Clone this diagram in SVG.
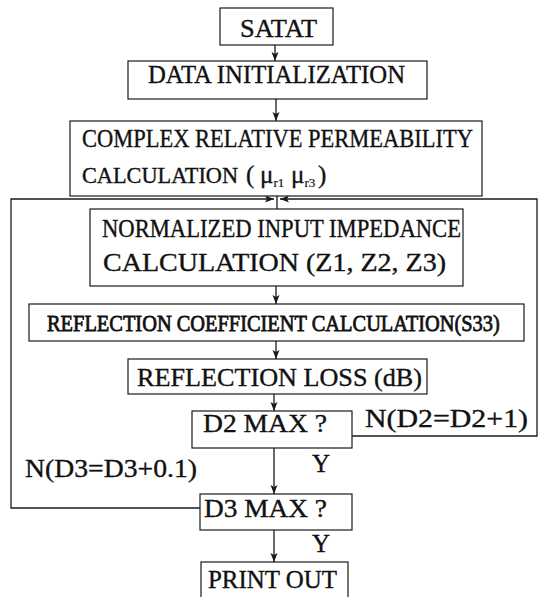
<svg xmlns="http://www.w3.org/2000/svg" width="545" height="597" viewBox="0 0 545 597">
<style>
.box{fill:#fff;stroke:#1a1a1a;stroke-width:1.2}
.t{font-family:'Liberation Serif','Times New Roman','DejaVu Serif',serif;font-size:25px;fill:#111;stroke:#111;stroke-width:0.35}
.c{stroke:#1a1a1a;stroke-width:1.3;fill:none}
.sub{font-size:13px;stroke-width:0.2}
.b{font-size:24px;stroke-width:0.8}
</style>
<defs>
<marker id="ah" markerUnits="userSpaceOnUse" markerWidth="10" markerHeight="8" refX="9" refY="3.5" orient="auto">
<path d="M0,0 L9,3.5 L0,7 L2,3.5 z" fill="#1a1a1a"/>
</marker>
</defs>
<rect width="545" height="597" fill="#fff"/>
<g id="connectors">
<path class="c" d="M275,45 L275,61" marker-end="url(#ah)"/>
<path class="c" d="M276,99 L276,121" marker-end="url(#ah)"/>
<path class="c" d="M277,196 L277,209"/>
<path class="c" d="M352,436 L537,436 L537,199 L280,199" marker-end="url(#ah)"/>
<path class="c" d="M200,508 L11,508 L11,199 L274,199" marker-end="url(#ah)"/>
<path class="c" d="M276,286 L276,304" marker-end="url(#ah)"/>
<path class="c" d="M276,341 L276,359" marker-end="url(#ah)"/>
<path class="c" d="M274,394 L274,411" marker-end="url(#ah)"/>
<path class="c" d="M274,448 L274,494" marker-end="url(#ah)"/>
<path class="c" d="M274,530 L274,562" marker-end="url(#ah)"/>
</g>
<g id="satat">
<rect class="box" x="220" y="8" width="113" height="37"/>
<text class="t" x="240" y="37" textLength="77" lengthAdjust="spacingAndGlyphs">SATAT</text>
</g>
<g id="data">
<rect class="box" x="128" y="61" width="299" height="38"/>
<text class="t" x="148" y="83" textLength="257" lengthAdjust="spacingAndGlyphs">DATA  INITIALIZATION</text>
</g>
<g id="complex">
<rect class="box" x="70" y="121" width="412" height="75"/>
<text class="t" x="82" y="147" textLength="391" lengthAdjust="spacingAndGlyphs">COMPLEX RELATIVE PERMEABILITY</text>
<text class="t" x="82" y="183"><tspan style="font-size:22.3px">CALCULATION</tspan><tspan x="246">(</tspan><tspan x="260">μ</tspan><tspan class="sub" dy="4">r1</tspan><tspan x="291" dy="-4">μ</tspan><tspan class="sub" dy="4">r3</tspan><tspan x="318" dy="-4">)</tspan></text>
</g>
<g id="normalized">
<rect class="box" x="90" y="209" width="373" height="77"/>
<text class="t" x="102" y="237" textLength="359" lengthAdjust="spacingAndGlyphs">NORMALIZED INPUT IMPEDANCE</text>
<text class="t" x="103" y="271" textLength="343" lengthAdjust="spacingAndGlyphs">CALCULATION (Z1, Z2, Z3)</text>
</g>
<g id="reflcoef">
<rect class="box" x="29" y="304" width="495" height="37"/>
<text class="t b" transform="translate(47,331) scale(0.85,1)" x="0" y="0">REFLECTION COEFFICIENT CALCULATION(S33)</text>
</g>
<g id="reflloss">
<rect class="box" x="128" y="359" width="299" height="35"/>
<text class="t" x="137" y="386" textLength="285" lengthAdjust="spacingAndGlyphs">REFLECTION LOSS (dB)</text>
</g>
<g id="d2">
<rect class="box" x="192" y="411" width="160" height="37"/>
<text class="t" x="203" y="432" textLength="124" lengthAdjust="spacingAndGlyphs">D2 MAX ?</text>
</g>
<g id="d3">
<rect class="box" x="200" y="494" width="152" height="36"/>
<text class="t" x="204" y="517" textLength="123" lengthAdjust="spacingAndGlyphs">D3 MAX ?</text>
</g>
<g id="print">
<rect class="box" x="201" y="562" width="147" height="45"/>
<text class="t" x="208" y="588" textLength="129" lengthAdjust="spacingAndGlyphs">PRINT OUT</text>
</g>
<g id="labels">
<text class="t" x="365" y="427" textLength="163" lengthAdjust="spacingAndGlyphs">N(D2=D2+1)</text>
<text class="t" x="25" y="477" textLength="172" lengthAdjust="spacingAndGlyphs">N(D3=D3+0.1)</text>
<text class="t" x="312" y="472">Y</text>
<text class="t" x="312" y="552">Y</text>
</g>
</svg>
